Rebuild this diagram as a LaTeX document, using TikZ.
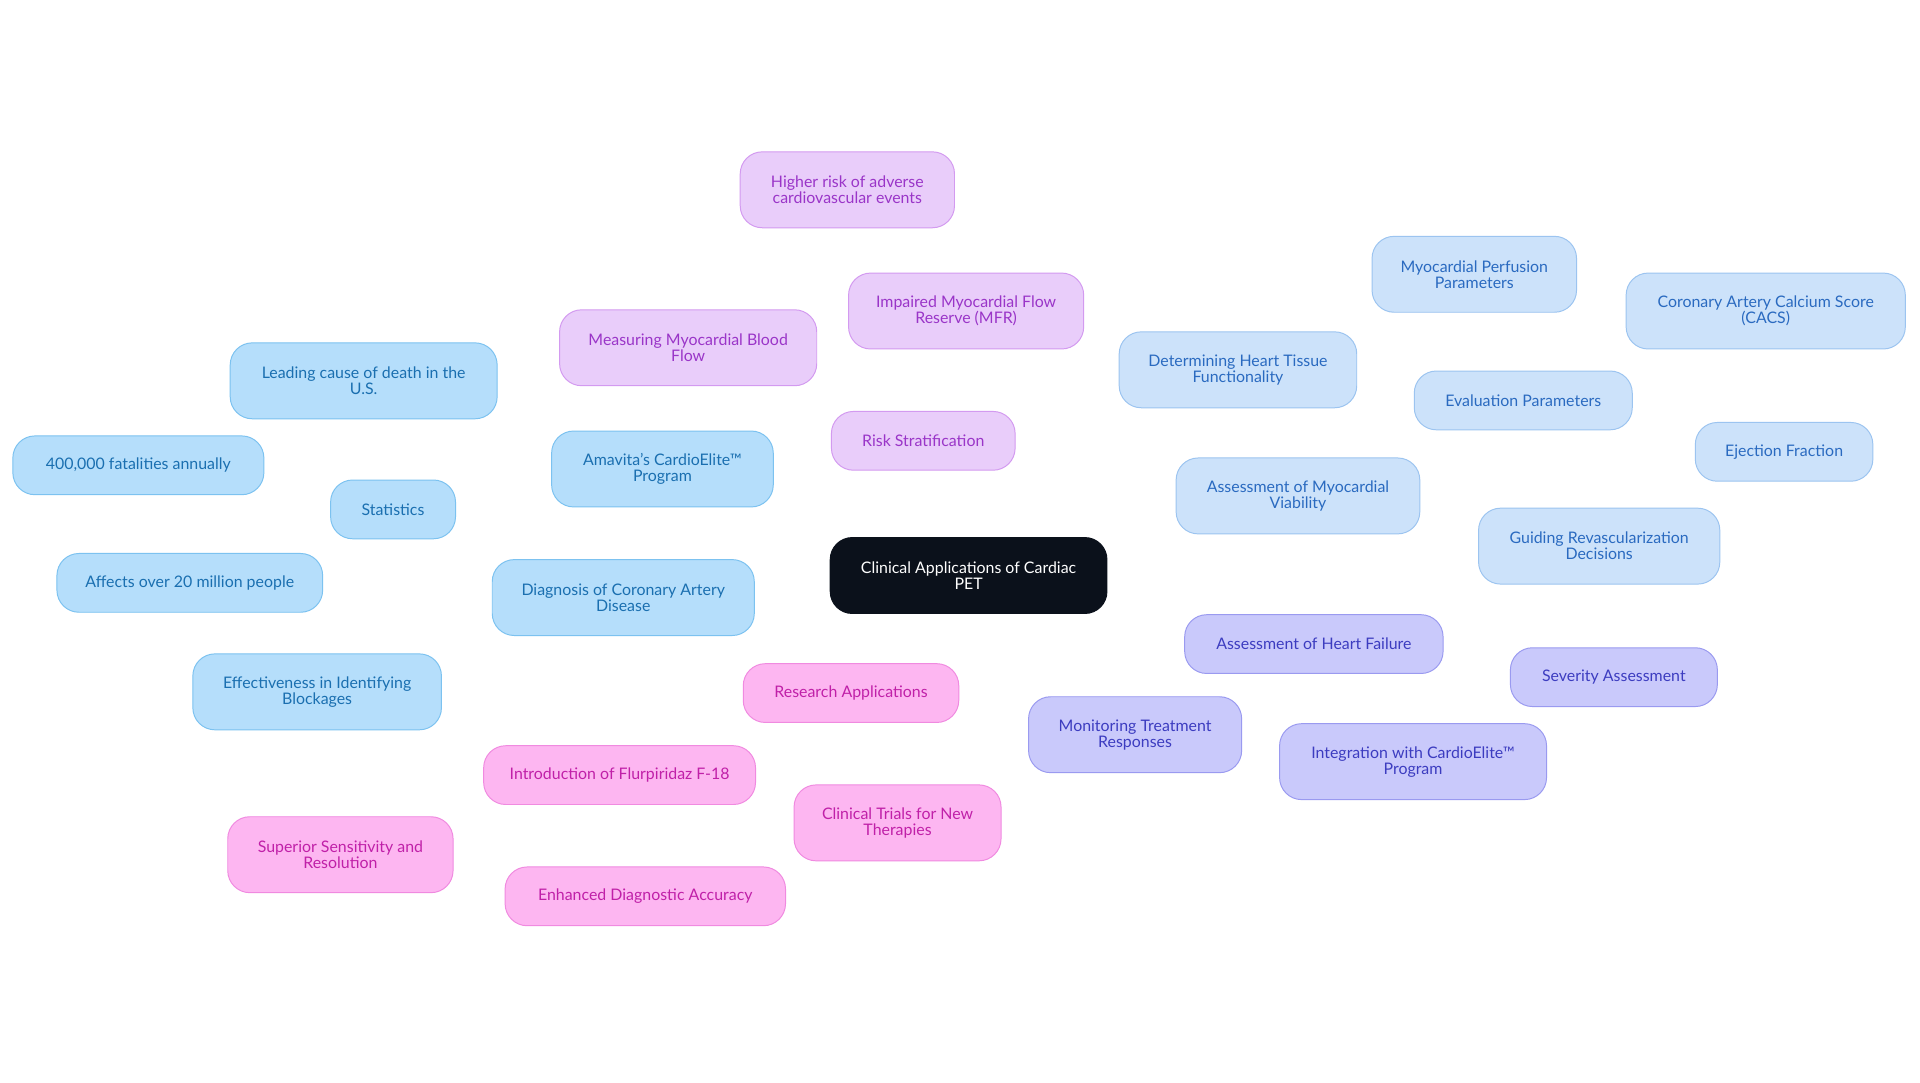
\documentclass[tikz,border=0pt]{standalone}
\usepackage{fontspec}
\setmainfont{Lato}
\usetikzlibrary{backgrounds}
\definecolor{bF}{HTML}{B5DEFB}\definecolor{bD}{HTML}{7CC2F0}\definecolor{bT}{HTML}{1A6FB0}
\definecolor{lF}{HTML}{CCE2FA}\definecolor{lD}{HTML}{9CC4F0}\definecolor{lT}{HTML}{2A6AC0}
\definecolor{pF}{HTML}{E9CDFA}\definecolor{pD}{HTML}{D39AF0}\definecolor{pT}{HTML}{9A35C8}
\definecolor{iF}{HTML}{C9C9FB}\definecolor{iD}{HTML}{9A9AF0}\definecolor{iT}{HTML}{3C3CC0}
\definecolor{kF}{HTML}{FDB6F1}\definecolor{kD}{HTML}{F08AE0}\definecolor{kT}{HTML}{C020A8}
\definecolor{cF}{HTML}{0B111B}
\tikzset{
 box/.style={rounded corners=18pt,align=center,font=\fontsize{13}{13}\selectfont,minimum height=48pt,inner sep=2pt,line width=0.8pt},
 bl/.style={box,fill=bF,draw=bD,text=bT},
 lb/.style={box,fill=lF,draw=lD,text=lT},
 pu/.style={box,fill=pF,draw=pD,text=pT},
 indg/.style={box,fill=iF,draw=iD,text=iT},
 pk/.style={box,fill=kF,draw=kD,text=kT},
 ce/.style={box,fill=cF,draw=cF,text=white},
 two/.style={minimum height=62pt},
 e/.style={line width=1.4pt}
}
\begin{document}
\begin{tikzpicture}[x=1pt,y=-1pt]
\useasboundingbox[fill=white] (0,0) rectangle (1568,884);
\node[ce,two,minimum width=226pt] (c) at (791,470) {Clinical Applications of Cardiac\\PET};
\node[bl,two,minimum width=214pt] (diag) at (509,488) {Diagnosis of Coronary Artery\\Disease};
\node[bl,minimum width=102pt] (stats) at (321,416) {Statistics};
\node[bl,two,minimum width=218pt] (lead) at (297,311) {Leading cause of death in the\\U.S.};
\node[bl,minimum width=205pt] (fat) at (113,380) {400,000 fatalities annually};
\node[bl,minimum width=217pt] (aff) at (155,476) {Affects over 20 million people};
\node[bl,two,minimum width=181pt] (amav) at (541,383) {Amavita's CardioElite™\\Program};
\node[bl,two,minimum width=203pt] (eff) at (259,565) {Effectiveness in Identifying\\Blockages};
\node[pu,minimum width=150pt] (risk) at (754,360) {Risk Stratification};
\node[pu,two,minimum width=210pt] (meas) at (562,284) {Measuring Myocardial Blood\\Flow};
\node[pu,two,minimum width=192pt] (imp) at (789,254) {Impaired Myocardial Flow\\Reserve (MFR)};
\node[pu,two,minimum width=175pt] (high) at (692,155) {Higher risk of adverse\\cardiovascular events};
\node[lb,two,minimum width=199pt] (via) at (1060,405) {Assessment of Myocardial\\Viability};
\node[lb,two,minimum width=194pt] (det) at (1011,302) {Determining Heart Tissue\\Functionality};
\node[lb,minimum width=178pt] (evalp) at (1244,327) {Evaluation Parameters};
\node[lb,two,minimum width=167pt] (myo) at (1204,224) {Myocardial Perfusion\\Parameters};
\node[lb,two,minimum width=228pt] (cacs) at (1442,254) {Coronary Artery Calcium Score\\(CACS)};
\node[lb,minimum width=145pt] (ej) at (1457,369) {Ejection Fraction};
\node[lb,two,minimum width=197pt] (guid) at (1306,446) {Guiding Revascularization\\Decisions};
\node[indg,minimum width=211pt] (hf) at (1073,526) {Assessment of Heart Failure};
\node[indg,minimum width=169pt] (sev) at (1318,553) {Severity Assessment};
\node[indg,two,minimum width=174pt] (mon) at (927,600) {Monitoring Treatment\\Responses};
\node[indg,two,minimum width=218pt] (integ) at (1154,622) {Integration with CardioElite™\\Program};
\node[pk,minimum width=176pt] (res) at (695,566) {Research Applications};
\node[pk,minimum width=222pt] (intro) at (506,633) {Introduction of Flurpiridaz F-18};
\node[pk,two,minimum width=184pt] (sup) at (278,698) {Superior Sensitivity and\\Resolution};
\node[pk,minimum width=229pt] (enh) at (527,732) {Enhanced Diagnostic Accuracy};
\node[pk,two,minimum width=169pt] (clin) at (733,672) {Clinical Trials for New\\Therapies};
\begin{scope}[on background layer]
\draw[e,bD] (c.center)--(diag.center) (diag.center)--(stats.center) (stats.center)--(lead.center) (stats.center)--(fat.center) (stats.center)--(aff.center) (diag.center)--(amav.center) (diag.center)--(eff.center);
\draw[e,pD] (c.center)--(risk.center) (risk.center)--(meas.center) (risk.center)--(imp.center) (imp.center)--(high.center);
\draw[e,lD] (c.center)--(via.center) (via.center)--(det.center) (via.center)--(evalp.center) (evalp.center)--(myo.center) (evalp.center)--(cacs.center) (evalp.center)--(ej.center) (via.center)--(guid.center);
\draw[e,iD] (c.center)--(hf.center) (hf.center)--(sev.center) (hf.center)--(mon.center) (hf.center)--(integ.center);
\draw[e,kD] (c.center)--(res.center) (res.center)--(intro.center) (intro.center)--(sup.center) (intro.center)--(enh.center) (res.center)--(clin.center);
\end{scope}
\end{tikzpicture}
\end{document}
